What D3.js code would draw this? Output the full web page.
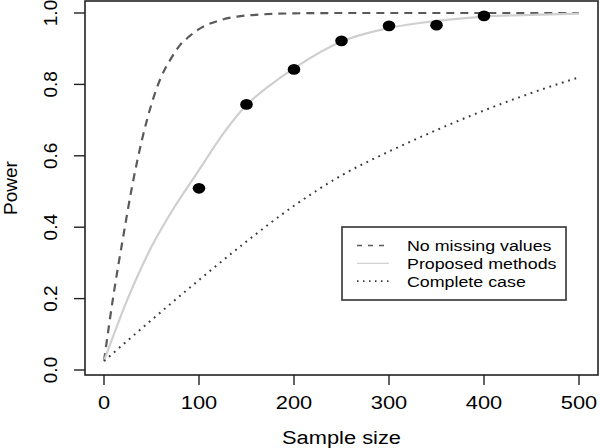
<!DOCTYPE html>
<html>
<head>
<meta charset="utf-8">
<script src="https://cdn.jsdelivr.net/npm/d3@7"></script>
<style>
  html, body { margin: 0; padding: 0; background: #fff; }
  svg { display: block; font-family: "Liberation Sans", Arial, sans-serif; }
</style>
</head>
<body>
<svg id="chart" width="600" height="448"></svg>
<script>
'use strict';

// values
const full_n     = [0, 10, 20, 30, 40, 50, 60, 70, 80, 90, 100, 120, 140, 160, 200, 250, 300, 400, 500];
const full_power = [0.025, 0.21, 0.37, 0.52, 0.645, 0.745, 0.82, 0.87, 0.91, 0.935, 0.955, 0.978, 0.99, 0.995, 0.999, 1, 1, 1, 1];

const proposed_n     = [0, 25, 50, 75, 100, 125, 150, 175, 200, 250, 300, 350, 400, 450, 500];
const proposed_power = [0.025, 0.2, 0.345, 0.46, 0.56, 0.66, 0.742, 0.798, 0.845, 0.92, 0.958, 0.978, 0.99, 0.995, 0.998];

const cc_n     = [0, 50, 100, 150, 200, 250, 300, 350, 400, 450, 500];
const cc_power = [0.025, 0.14, 0.252, 0.36, 0.46, 0.545, 0.612, 0.672, 0.727, 0.776, 0.82];

const sim_n     = [100, 150, 200, 250, 300, 350, 400];
const sim_power = [0.509, 0.744, 0.842, 0.922, 0.964, 0.966, 0.992];

const x_ticks = [0, 100, 200, 300, 400, 500];
const y_ticks = [0, 0.2, 0.4, 0.6, 0.8, 1.0];
const legend_labels = ['No missing values', 'Proposed methods', 'Complete case'];

const svg = d3.select('#chart');

const x = d3.scaleLinear().domain([-20, 520]).range([85, 598]);
const y = d3.scaleLinear().domain([0, 1]).range([370, 13]);

const plot_left = 85, plot_right = 598, plot_top = 1, plot_bottom = 375;
const stretch = 1.15; // the picture's text is a little wider than normal

// curves
const line = d3.line().x(d => x(d[0])).y(d => y(d[1])).curve(d3.curveMonotoneX);

const series = [
    { n: full_n, p: full_power, stroke: '#5a5a5a', dash: '8,6', width: 2.2 },
    { n: proposed_n, p: proposed_power, stroke: '#cfcfcf', dash: null, width: 2.2 },
    { n: cc_n, p: cc_power, stroke: '#3a3a3a', dash: '1.8,4.8', width: 2 }
];

series.forEach(s => {
    svg.append('path')
        .datum(d3.zip(s.n, s.p))
        .attr('d', line)
        .attr('fill', 'none')
        .attr('stroke', s.stroke)
        .attr('stroke-width', s.width)
        .attr('stroke-dasharray', s.dash);
});

// simulated points
svg.selectAll('.sim')
    .data(d3.zip(sim_n, sim_power))
    .enter().append('ellipse')
    .attr('class', 'sim')
    .attr('cx', d => x(d[0]))
    .attr('cy', d => y(d[1]))
    .attr('rx', 6.3)
    .attr('ry', 5.4)
    .attr('fill', '#000');

// plot box
svg.append('rect')
    .attr('x', plot_left).attr('y', plot_top)
    .attr('width', plot_right - plot_left).attr('height', plot_bottom - plot_top)
    .attr('fill', 'none').attr('stroke', '#222').attr('stroke-width', 1.6);

// x axis ticks and labels
const xg = svg.append('g');
x_ticks.forEach(t => {
    xg.append('line')
        .attr('x1', x(t)).attr('x2', x(t))
        .attr('y1', plot_bottom).attr('y2', plot_bottom + 10)
        .attr('stroke', '#222').attr('stroke-width', 1.4);
    xg.append('text')
        .attr('transform', `translate(${x(t)},409) scale(${stretch},1)`)
        .attr('text-anchor', 'middle')
        .attr('font-size', 19)
        .attr('fill', '#000')
        .text(t);
});

// y axis ticks and labels
const yg = svg.append('g');
y_ticks.forEach(t => {
    yg.append('line')
        .attr('x1', plot_left - 11).attr('x2', plot_left)
        .attr('y1', y(t)).attr('y2', y(t))
        .attr('stroke', '#222').attr('stroke-width', 1.4);
    yg.append('text')
        .attr('transform', `translate(57,${y(t)}) rotate(-90)`)
        .attr('text-anchor', 'middle')
        .attr('font-size', 19)
        .attr('fill', '#000')
        .text(d3.format('.1f')(t));
});

// axis titles
svg.append('text')
    .attr('transform', `translate(${(plot_left + plot_right) / 2},444) scale(${stretch},1)`)
    .attr('text-anchor', 'middle')
    .attr('font-size', 19)
    .attr('fill', '#000')
    .text('Sample size');

svg.append('text')
    .attr('transform', `translate(17,${(plot_top + plot_bottom) / 2}) rotate(-90)`)
    .attr('text-anchor', 'middle')
    .attr('font-size', 19)
    .attr('fill', '#000')
    .text('Power');

// legend
const lg = svg.append('g');
lg.append('rect')
    .attr('x', 342).attr('y', 227)
    .attr('width', 224).attr('height', 73)
    .attr('fill', '#fff').attr('stroke', '#333').attr('stroke-width', 1.6);

legend_labels.forEach((label, i) => {
    const s = series[i];
    const ly = 245.5 + i * 17.8;
    lg.append('line')
        .attr('x1', 357).attr('x2', 389)
        .attr('y1', ly).attr('y2', ly)
        .attr('stroke', s.stroke)
        .attr('stroke-width', i === 1 ? 1.2 : 1.6)
        .attr('stroke-dasharray', i === 0 ? '5,6' : (i === 2 ? '1.5,4.5' : null));
    lg.append('text')
        .attr('transform', `translate(407,${ly + 5.6}) scale(${stretch},1)`)
        .attr('font-size', 15.5)
        .attr('fill', '#000')
        .text(label);
});
</script>
</body>
</html>
